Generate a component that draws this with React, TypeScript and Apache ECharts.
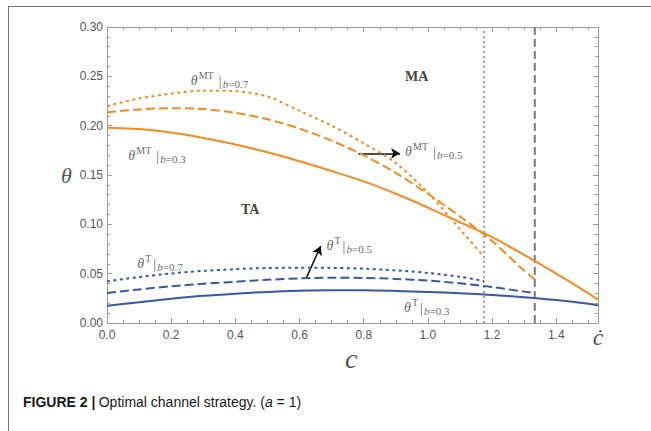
import React, { useEffect, useRef } from "react";
import * as echarts from "echarts";

// ---- data ----
const cFull = [0, 0.1, 0.2, 0.3, 0.4, 0.5, 0.6, 0.7, 0.8, 0.9, 1.0, 1.1, 1.2, 1.3, 1.4, 1.5, 1.53];
const cMid = [0, 0.1, 0.2, 0.3, 0.4, 0.5, 0.6, 0.7, 0.8, 0.9, 1.0, 1.1, 1.2, 1.3, 1.333];
const cShort = [0, 0.1, 0.2, 0.3, 0.4, 0.5, 0.6, 0.7, 0.8, 0.9, 1.0, 1.1, 1.175];

const thetaMT_b03 = [0.198, 0.1965, 0.193, 0.1875, 0.181, 0.173, 0.164, 0.154, 0.1435, 0.131, 0.117, 0.102, 0.087, 0.069, 0.05, 0.03, 0.0235];
const thetaMT_b05 = [0.2135, 0.2165, 0.2177, 0.2168, 0.213, 0.2065, 0.197, 0.1848, 0.17, 0.152, 0.131, 0.108, 0.083, 0.053, 0.044];
const thetaMT_b07 = [0.22, 0.2275, 0.2325, 0.2355, 0.235, 0.2295, 0.215, 0.2, 0.182, 0.162, 0.132, 0.095, 0.067];

const thetaT_b03 = [0.0175, 0.021, 0.0245, 0.0275, 0.0297, 0.0315, 0.0326, 0.0331, 0.0331, 0.0325, 0.0315, 0.0302, 0.0285, 0.0262, 0.0233, 0.0195, 0.0178];
const thetaT_b05 = [0.0304, 0.034, 0.0372, 0.0397, 0.0418, 0.0438, 0.0452, 0.0458, 0.0457, 0.0447, 0.043, 0.0402, 0.0365, 0.0318, 0.0304];
const thetaT_b07 = [0.0422, 0.0466, 0.0502, 0.0528, 0.0546, 0.0557, 0.0561, 0.0559, 0.0551, 0.0533, 0.0507, 0.0468, 0.0425];

const cThresholdDotted = 1.175;
const cThresholdDashed = 1.333;
const xMax = 1.53;
const yTicks = [0, 0.3];

const arrowMT = [[0.783, 0.172], [0.913, 0.172]];
const arrowT = [[0.622, 0.0463], [0.666, 0.078]];

const ORANGE = "#F58A1F";
const BLUE = "#3A57A7";
const SERIF = '"Liberation Serif", "DejaVu Serif", serif';
const SANS = '"Liberation Sans", Arial, sans-serif';

const zip = (xs: number[], ys: number[]) => xs.map((x, i) => [x, ys[i]]);

function txt(x: number, y: number, text: string, size: number, style: string, color = "#6a6a6a", weight = "normal") {
  return {
    type: "text",
    x,
    y,
    z: 100,
    style: {
      text,
      fontFamily: SERIF,
      fontSize: size,
      fontStyle: style,
      fontWeight: weight,
      fill: color,
      align: "left",
      verticalAlign: "middle",
    },
  };
}

function labelMT(x0: number, y0: number, sub: string) {
  return {
    type: "group",
    x: x0,
    y: y0,
    z: 100,
    children: [
      txt(0, 0, "θ", 14, "italic"),
      txt(8, -5, "MT", 10, "normal"),
      txt(28, 1, "|", 14, "normal"),
      txt(32, 4, "b", 11, "italic"),
      txt(37.5, 4, "=" + sub, 11, "normal"),
    ],
  };
}

function labelT(x0: number, y0: number, sub: string) {
  return {
    type: "group",
    x: x0,
    y: y0,
    z: 100,
    children: [
      txt(0, 0, "θ", 14, "italic"),
      txt(8, -5, "T", 10, "normal"),
      txt(16, 1, "|", 14, "normal"),
      txt(20, 4, "b", 11, "italic"),
      txt(25.5, 4, "=" + sub, 11, "normal"),
    ],
  };
}

function lineSeries(name: string, xs: number[], ys: number[], color: string, dash: any) {
  return {
    type: "line",
    name,
    data: zip(xs, ys),
    showSymbol: false,
    symbol: "none",
    smooth: 0.3,
    lineStyle: { color, width: 2, type: dash },
    silent: true,
    z: 5,
  };
}

export default function App() {
  const ref = useRef<HTMLDivElement>(null);
  useEffect(() => {
    if (!ref.current) return;
    const chart = echarts.init(ref.current, undefined, { renderer: "svg" });
    const axisCommon = {
      type: "value",
      axisLine: { show: true, onZero: false, lineStyle: { color: "#9a9a9a", width: 1 } },
      axisTick: { show: true, inside: true, length: 5, lineStyle: { color: "#9a9a9a" } },
      minorTick: { show: true, length: 3, lineStyle: { color: "#9a9a9a" } },
      splitLine: { show: false },
      minorSplitLine: { show: false },
    };
    const xAxisBase = { ...axisCommon, min: 0, max: xMax, interval: 0.2, minorTick: { ...axisCommon.minorTick, splitNumber: 4 } };
    const yAxisBase = { ...axisCommon, min: yTicks[0], max: yTicks[1], interval: 0.05, minorTick: { ...axisCommon.minorTick, splitNumber: 5 } };

    chart.setOption({
      animation: false,
      backgroundColor: "#ffffff",
      grid: { left: 107, top: 27, width: 491, height: 296, containLabel: false },
      xAxis: [
        {
          ...xAxisBase,
          position: "bottom",
          axisLabel: {
            show: true,
            margin: 6,
            color: "#555",
            fontFamily: SANS,
            fontSize: 12,
            formatter: (v: number) => (v > 1.45 ? "{c|ċ}" : v.toFixed(1)),
            rich: { c: { fontFamily: SERIF, fontStyle: "italic", fontSize: 24, color: "#555", padding: [-4, 0, 0, 0] } },
          },
        },
        { ...xAxisBase, position: "top", axisLabel: { show: false } },
      ],
      yAxis: [
        {
          ...yAxisBase,
          position: "left",
          axisLabel: { show: true, margin: 4, color: "#555", fontFamily: SANS, fontSize: 12, formatter: (v: number) => v.toFixed(2) },
        },
        { ...yAxisBase, position: "right", axisLabel: { show: false } },
      ],
      series: [
        lineSeries("θMT b=0.3", cFull, thetaMT_b03, ORANGE, "solid"),
        lineSeries("θMT b=0.5", cMid, thetaMT_b05, ORANGE, [9, 4]),
        lineSeries("θMT b=0.7", cShort, thetaMT_b07, ORANGE, [3, 3.5]),
        lineSeries("θT b=0.3", cFull, thetaT_b03, BLUE, "solid"),
        lineSeries("θT b=0.5", cMid, thetaT_b05, BLUE, [9, 4]),
        lineSeries("θT b=0.7", cShort, thetaT_b07, BLUE, [3, 3.5]),
        {
          type: "line",
          name: "threshold dotted",
          data: [[cThresholdDotted, yTicks[0]], [cThresholdDotted, yTicks[1]]],
          symbol: "none",
          lineStyle: { color: "#a0a0a0", width: 2, type: [2, 3] },
          silent: true,
          z: 3,
        },
        {
          type: "line",
          name: "threshold dashed",
          data: [[cThresholdDashed, yTicks[0]], [cThresholdDashed, yTicks[1]]],
          symbol: "none",
          lineStyle: { color: "#7a7a7a", width: 2, type: [8, 4] },
          silent: true,
          z: 3,
        },
        {
          type: "line",
          name: "arrows",
          data: [],
          silent: true,
          markLine: {
            silent: true,
            symbol: ["none", "arrow"],
            symbolSize: [8, 9],
            label: { show: false },
            lineStyle: { color: "#111", width: 1.5, type: "solid" },
            emphasis: { disabled: true },
            data: [
              [{ coord: arrowMT[0] }, { coord: arrowMT[1] }],
              [{ coord: arrowT[0] }, { coord: arrowT[1] }],
            ],
          },
        },
      ],
      graphic: [
        // figure frame
        { type: "line", shape: { x1: 8, y1: 6.5, x2: 651, y2: 6.5 }, style: { stroke: "#777", lineWidth: 1 } },
        { type: "line", shape: { x1: 8.5, y1: 6, x2: 8.5, y2: 431 }, style: { stroke: "#777", lineWidth: 1 } },
        // axis names
        txt(61, 175, "θ", 22, "italic", "#555"),
        txt(345, 358, "c", 28, "italic", "#555"),
        // region labels
        txt(405, 76, "MA", 14, "normal", "#444", "bold"),
        txt(241, 209, "TA", 14, "normal", "#444", "bold"),
        // curve labels
        labelMT(190.7, 80, "0.7"),
        labelMT(128.3, 155, "0.3"),
        labelMT(405, 151, "0.5"),
        labelT(137.3, 263, "0.7"),
        labelT(326.5, 245, "0.5"),
        labelT(404, 307, "0.3"),
        // caption
        {
          type: "text",
          x: 23,
          y: 402,
          style: {
            text: "{b|FIGURE 2 |} {n|Optimal channel strategy. (}{i|a}{n| = 1)}",
            verticalAlign: "middle",
            rich: {
              b: { fontFamily: SANS, fontWeight: "bold", fontSize: 14, fill: "#1a1a1a" },
              n: { fontFamily: SANS, fontSize: 14, fill: "#1a1a1a" },
              i: { fontFamily: SANS, fontStyle: "italic", fontSize: 14, fill: "#1a1a1a" },
            },
          },
        },
      ],
    });
    return () => chart.dispose();
  }, []);
  return <div ref={ref} style={{ position: "absolute", left: 0, top: 0, width: 651, height: 431 }} />;
}
